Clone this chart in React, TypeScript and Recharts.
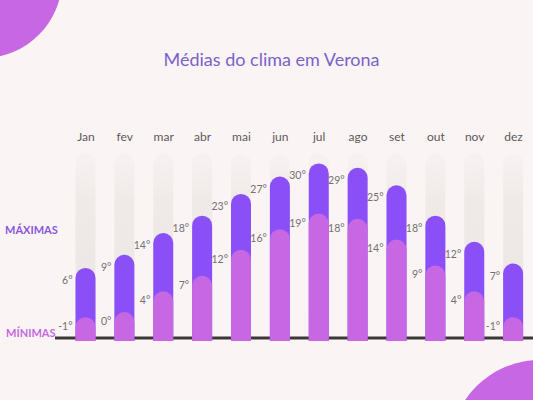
import React from 'react';
import { ComposedChart, Bar, XAxis, YAxis, LabelList } from 'recharts';

const months = ['Jan', 'fev', 'mar', 'abr', 'mai', 'jun', 'jul', 'ago', 'set', 'out', 'nov', 'dez'];
const maxTemps = [6, 9, 14, 18, 23, 27, 30, 29, 25, 18, 12, 7];
const minTemps = [-1, 0, 4, 7, 12, 16, 19, 18, 14, 9, 4, -1];

const maxDomain: [number, number] = [-10.8, 32.4];
const minDomain: [number, number] = [-5.6, 30.7];

const data = months.map((m, i) => ({
  month: m,
  maxRange: [maxDomain[0], maxTemps[i]],
  minRange: [minDomain[0], minTemps[i]],
}));

const FONT = 'Lato, "Open Sans", sans-serif';

const MonthTick = (props: any) => {
  const { x, y, payload } = props;
  return (
    <text x={x} y={y} dy={-4} textAnchor="middle" fontSize={12} fill="#5e5858" fontFamily={FONT}>
      {payload.value}
    </text>
  );
};

const makeLabel = (values: number[], dyOff: number) => (props: any) => {
  const { x, y, index } = props;
  return (
    <text
      x={Number(x) - 3}
      y={Number(y) + dyOff}
      textAnchor="end"
      dominantBaseline="central"
      fontSize={10.5}
      fill="#757070"
      fontFamily={FONT}
    >
      {values[index]}°
    </text>
  );
};

export default function App() {
  return (
    <div
      style={{
        position: 'fixed',
        left: 0,
        top: 0,
        width: 533,
        height: 400,
        overflow: 'hidden',
        background: '#faf4f5',
        fontFamily: FONT,
      }}
    >
      <div
        style={{
          position: 'absolute',
          left: -16.6 - 79,
          top: -20.6 - 79,
          width: 158,
          height: 158,
          borderRadius: '50%',
          background: '#c767e3',
        }}
      />
      <div
        style={{
          position: 'absolute',
          left: 540 - 90,
          top: 450 - 90,
          width: 180,
          height: 180,
          borderRadius: '50%',
          background: '#c767e3',
        }}
      />
      <div
        style={{
          position: 'absolute',
          left: 0,
          width: 533,
          top: 48,
          textAlign: 'center',
          paddingLeft: 10,
          boxSizing: 'border-box',
          fontSize: 18,
          color: '#7a62c8',
          fontFamily: FONT,
        }}
      >
        Médias do clima em Verona
      </div>
      <div
        style={{
          position: 'absolute',
          left: 5,
          top: 223,
          fontSize: 11,
          fontWeight: 700,
          color: '#8a55e0',
          fontFamily: FONT,
        }}
      >
        MÁXIMAS
      </div>
      <div
        style={{
          position: 'absolute',
          left: 6,
          top: 326,
          fontSize: 11,
          fontWeight: 700,
          color: '#c569e0',
          fontFamily: FONT,
        }}
      >
        MÍNIMAS
      </div>
      <div style={{ position: 'absolute', left: 0, top: 0 }}>
        <ComposedChart
          width={533}
          height={400}
          data={data}
          margin={{ top: 120, right: 0, bottom: 57, left: 55 }}
        >
          <defs>
            <linearGradient id="track" x1="0" y1="0" x2="0" y2="1">
              <stop offset="0%" stopColor="#f1ecea" stopOpacity={0.3} />
              <stop offset="25%" stopColor="#eee8e6" stopOpacity={0.9} />
              <stop offset="100%" stopColor="#ebe5e3" stopOpacity={1} />
            </linearGradient>
          </defs>
          <XAxis
            xAxisId="top"
            dataKey="month"
            orientation="top"
            height={33}
            axisLine={false}
            tickLine={false}
            tick={<MonthTick />}
            interval={0}
            padding={{ left: 11.5, right: 0 }}
          />
          <XAxis
            xAxisId="bottom"
            dataKey="month"
            orientation="bottom"
            height={2}
            axisLine={{ stroke: '#3d3737', strokeWidth: 3, transform: 'translate(0,-3)' }}
            tickLine={false}
            tick={false}
            padding={{ left: 11.5, right: 0 }}
            {...({ zIndex: -1 } as any)}
          />
          <YAxis yAxisId="max" hide domain={maxDomain} allowDataOverflow type="number" />
          <YAxis yAxisId="min" hide domain={minDomain} allowDataOverflow type="number" />
          <Bar
            xAxisId="top"
            yAxisId="max"
            dataKey="maxRange"
            barSize={20}
            fill="#8a4ff6"
            radius={[10, 10, 0, 0]}
            background={{ fill: 'url(#track)', radius: [10, 10, 0, 0] } as any}
            isAnimationActive={false}
          >
            <LabelList dataKey="maxRange" content={makeLabel(maxTemps, 12)} />
          </Bar>
          <Bar
            xAxisId="bottom"
            yAxisId="min"
            dataKey="minRange"
            barSize={20}
            fill="#c767e3"
            radius={[10, 10, 0, 0]}
            isAnimationActive={false}
          >
            <LabelList dataKey="minRange" content={makeLabel(minTemps, 9)} />
          </Bar>
        </ComposedChart>
      </div>
    </div>
  );
}
